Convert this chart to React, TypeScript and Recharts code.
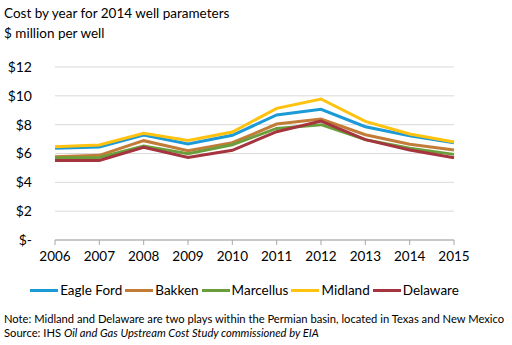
import { CartesianGrid, Line, LineChart, XAxis, YAxis } from "recharts";

const years = ["2006", "2007", "2008", "2009", "2010", "2011", "2012", "2013", "2014", "2015"];
const eagleFord = [6.36, 6.45, 7.28, 6.66, 7.26, 8.67, 9.06, 7.86, 7.23, 6.75];
const bakken = [5.78, 5.87, 6.89, 6.19, 6.75, 8.04, 8.39, 7.3, 6.64, 6.24];
const marcellus = [5.71, 5.73, 6.52, 5.99, 6.61, 7.74, 8.0, 6.96, 6.36, 5.94];
const midland = [6.47, 6.59, 7.4, 6.91, 7.49, 9.13, 9.78, 8.23, 7.35, 6.8];
const delaware = [5.52, 5.52, 6.43, 5.73, 6.22, 7.51, 8.25, 6.96, 6.24, 5.71];
const yTicks = [0, 2, 4, 6, 8, 10, 12];

const series = [
  { key: "eagleFord", name: "Eagle Ford", color: "#1B9AD6" },
  { key: "bakken", name: "Bakken", color: "#C27C38" },
  { key: "marcellus", name: "Marcellus", color: "#6A9E3A" },
  { key: "midland", name: "Midland", color: "#FFC20E" },
  { key: "delaware", name: "Delaware", color: "#A5343F" },
];

const data = years.map((year, i) => ({
  year,
  eagleFord: eagleFord[i],
  bakken: bakken[i],
  marcellus: marcellus[i],
  midland: midland[i],
  delaware: delaware[i],
}));

const font = "Lato, 'Open Sans', sans-serif";

function LegendRow() {
  return (
    <div
      style={{
        position: "absolute",
        left: 0,
        top: 282,
        width: 492,
        display: "flex",
        justifyContent: "center",
        alignItems: "center",
        fontSize: 13.5,
      }}
    >
      {series.map((s) => (
        <span key={s.key} style={{ display: "flex", alignItems: "center", marginRight: 3 }}>
          <span style={{ display: "inline-block", width: 28, height: 3, background: s.color, marginRight: 2 }} />
          {s.name}
        </span>
      ))}
    </div>
  );
}

export default function App() {
  return (
    <div style={{ position: "absolute", left: 0, top: 0, width: 512, height: 345, background: "#fff", fontFamily: font, color: "#000" }}>
      <div style={{ position: "absolute", left: 4, top: 3, fontSize: 13.5, lineHeight: "20px" }}>
        Cost by year for 2014 well parameters
        <br />$ million per well
      </div>
      <LineChart width={512} height={345} data={data} margin={{ top: 67, right: 58, bottom: 0, left: 0 }}>
        <CartesianGrid vertical={false} stroke="#D9D9D9" />
        <XAxis
          dataKey="year"
          height={105}
          padding={{ left: 0, right: 0 }}
          stroke="#A6A6A6"
          tickSize={5}
          tick={{ fill: "#000", fontSize: 13.5, fontFamily: font }}
          tickMargin={6}
        />
        <YAxis
          domain={[0, 12]}
          ticks={yTicks}
          width={55}
          axisLine={false}
          tickLine={false}
          tickMargin={17}
          tickFormatter={(v: number) => (v === 0 ? "$-" : `$${v}`)}
          tick={{ fill: "#000", fontSize: 14, fontFamily: font }}
        />
        {series.map((s) => (
          <Line
            key={s.key}
            dataKey={s.key}
            name={s.name}
            stroke={s.color}
            strokeWidth={3}
            dot={false}
            isAnimationActive={false}
          />
        ))}
      </LineChart>
      <LegendRow />
      <div style={{ position: "absolute", left: 4, top: 312, fontSize: 11.2, lineHeight: "14px", whiteSpace: "nowrap" }}>
        Note: Midland and Delaware are two plays within the Permian basin, located in Texas and New Mexico
        <br />
        Source: IHS <i>Oil and Gas Upstream Cost Study commissioned by EIA</i>
      </div>
    </div>
  );
}
